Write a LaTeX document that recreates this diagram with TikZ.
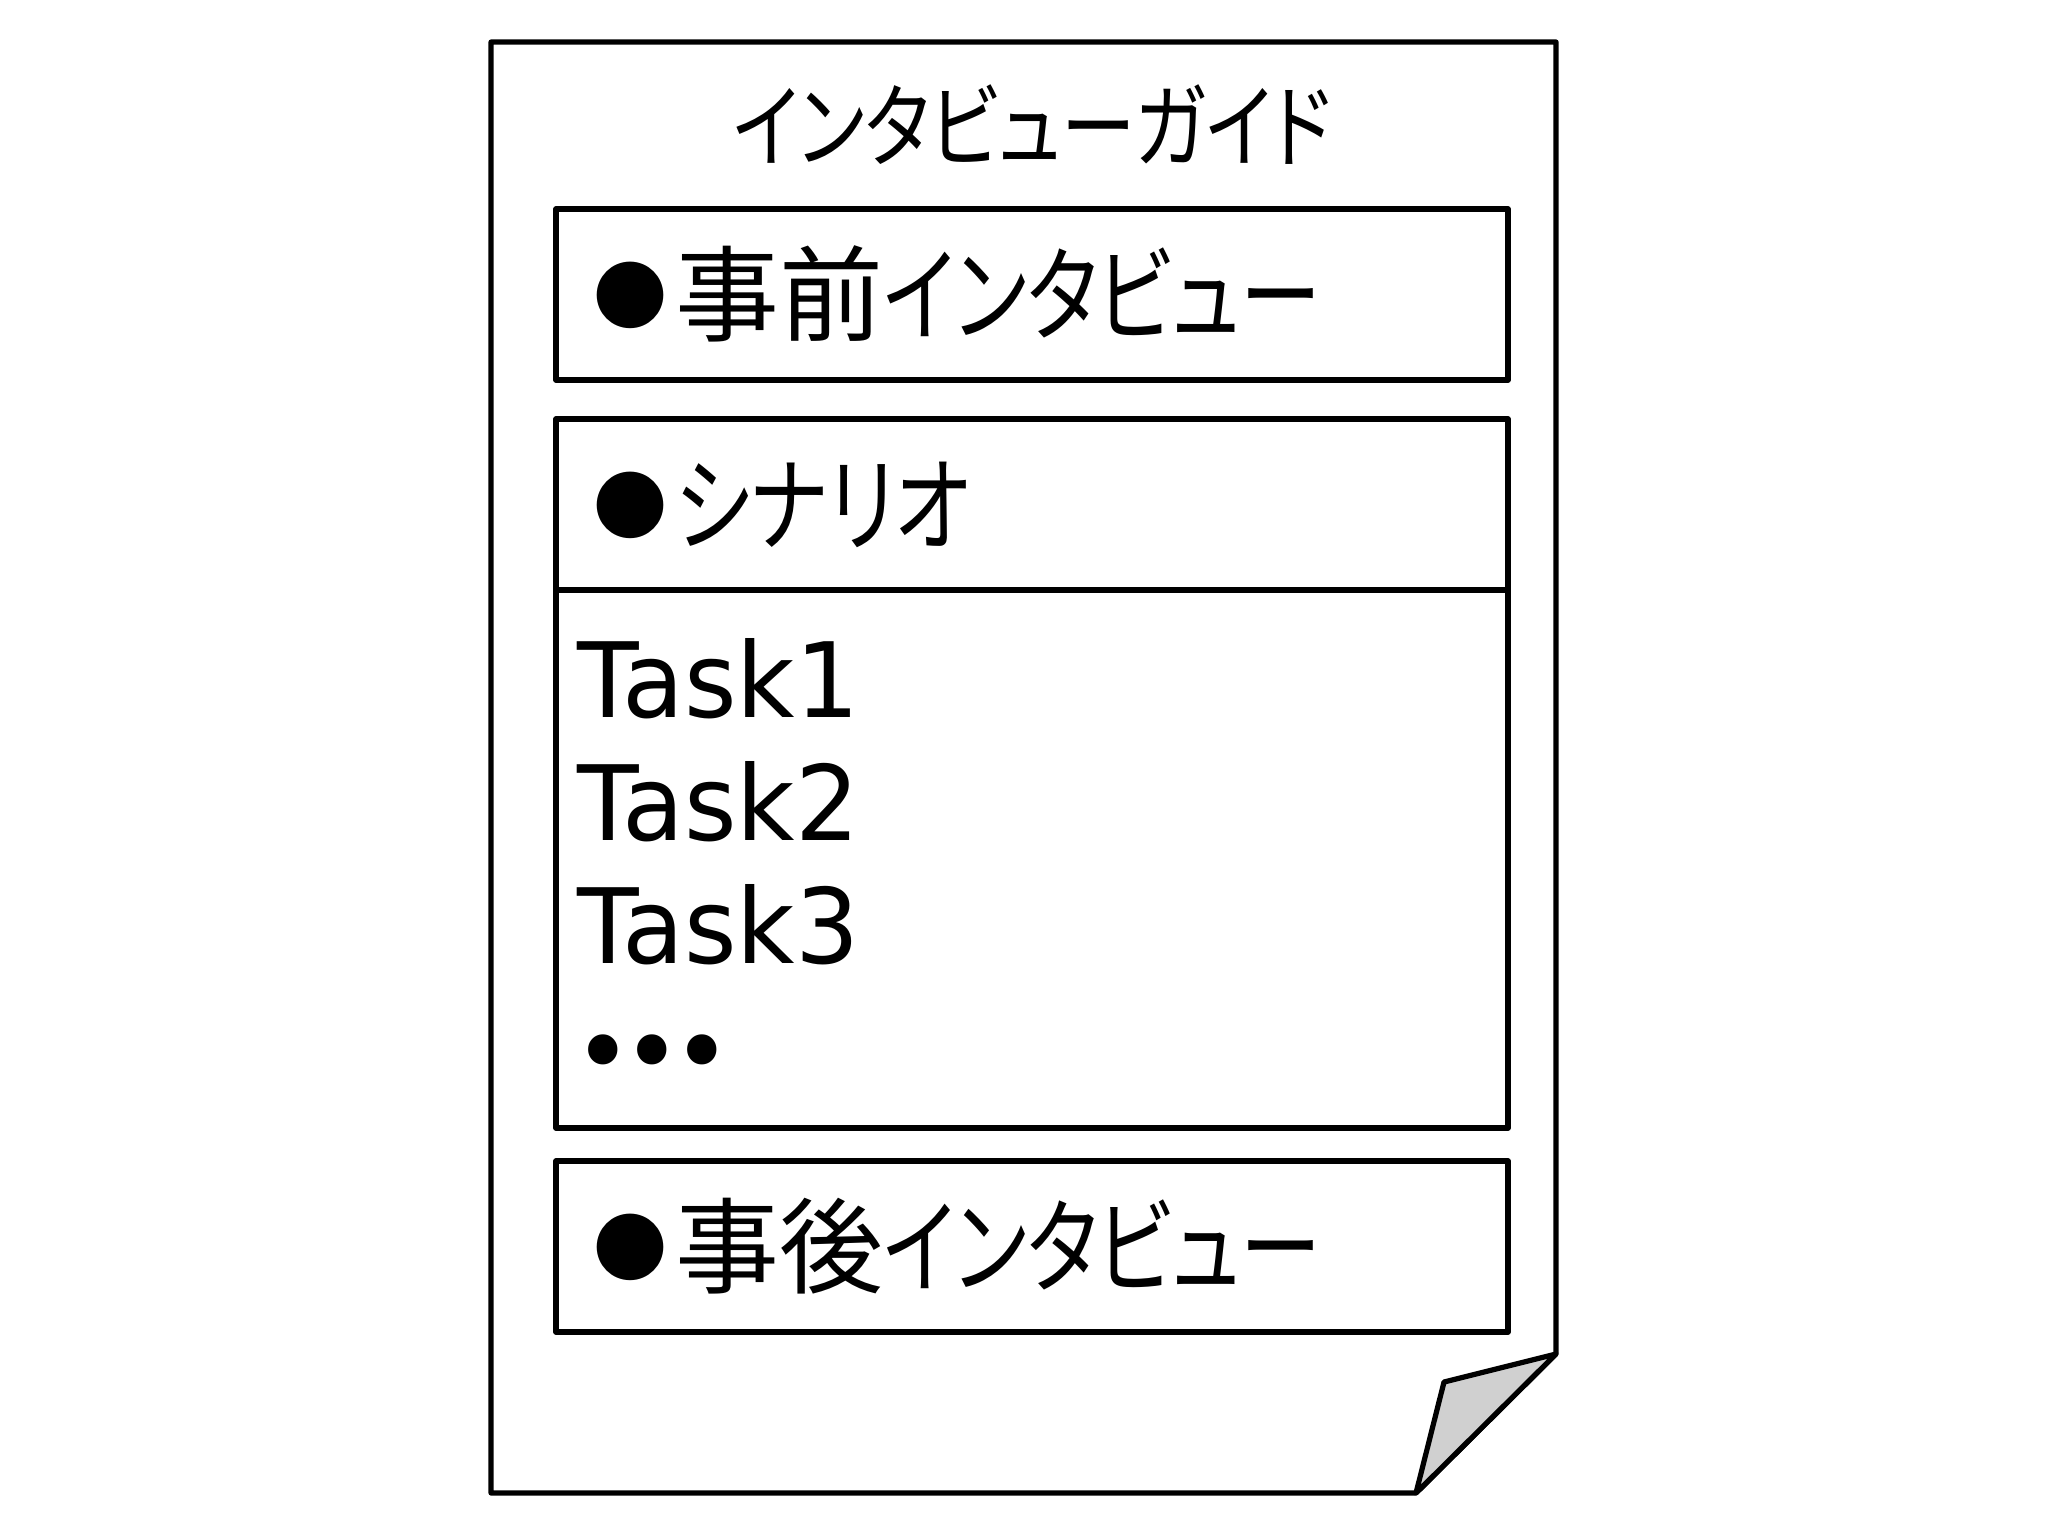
\documentclass[tikz,border=0pt]{standalone}
\usepackage{fontspec}
\newfontfamily\jp[RawFeature=+palt]{Noto Sans CJK JP}
\newfontfamily\jpk[RawFeature=+palt,FakeStretch=0.78]{Noto Sans CJK JP}
\newfontfamily\jpt[RawFeature=+palt,FakeStretch=0.81]{Noto Sans CJK JP}
\newfontfamily\lat[FakeStretch=0.97]{DejaVu Sans}
\newcommand{\bul}{\raisebox{4.6pt}{\fontsize{37}{37}\selectfont ●}\kern4pt}
\begin{document}
\begin{tikzpicture}[x=0.5pt,y=-0.5pt,
  line/.style={draw=black,line width=2.6pt,line join=round},
  hdr/.style={anchor=base west,inner sep=0pt,font=\jp\fontsize{52}{52}\selectfont},
  task/.style={anchor=base west,inner sep=0pt,font=\lat\fontsize{52}{52}\selectfont}]
\useasboundingbox (0,0) rectangle (2048,1536);
% page outline with folded corner
\coordinate (p1) at (491,42);
\coordinate (p2) at (1556,42);
\coordinate (p3) at (1556,1354);
\coordinate (p4) at (1416,1493);
\coordinate (p5) at (491,1493);
\coordinate (f) at (1444,1382);
\draw[line] (p1) -- (p2) -- (p3) -- (p4) -- (p5) -- cycle;
\draw[line,fill={rgb,255:red,208;green,208;blue,208}] (p3) -- (f) -- (p4) -- cycle;
% title
\node[anchor=base,inner sep=0pt,font=\jpt\fontsize{46}{46}\selectfont] (title) at (1032,160) {インタビューガイド};
% boxes
\draw[line] (556,209) rectangle (1508,380);
\draw[line] (556,419) rectangle (1508,1128);
\draw[line] (556,590) -- (1508,590);
\draw[line] (556,1161) rectangle (1508,1332);
\node[hdr] (h1) at (593,333) {\bul 事前{\jpk インタビュー}};
\node[hdr] (h2) at (593,543) {\bul{\jpk シナリオ}};
\node[hdr] (h3) at (593,1285) {\bul 事後{\jpk インタビュー}};
\node[task] (t1) at (577,717) {Task1};
\node[task] (t2) at (577,840) {Task2};
\node[task] (t3) at (577,963) {Task3};
\node[task] (t4) at (573,1088) {•\kern-5pt•\kern-5pt•};
\end{tikzpicture}
\end{document}
